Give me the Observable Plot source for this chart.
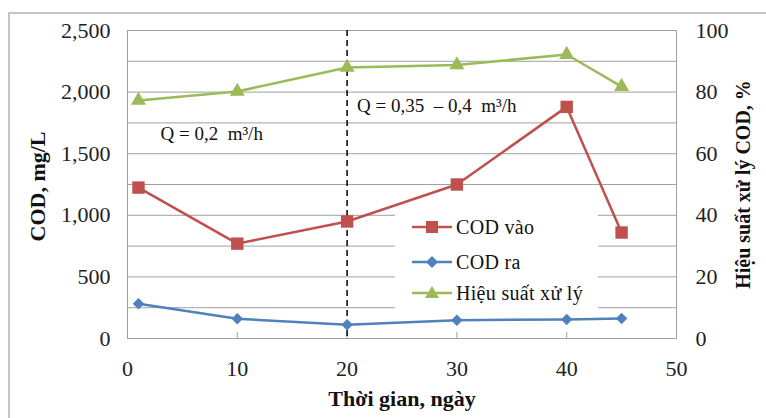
<!DOCTYPE html>
<html><head><meta charset="utf-8">
<script src="https://cdn.jsdelivr.net/npm/d3@7"></script>
<script src="https://cdn.jsdelivr.net/npm/@observablehq/plot@0.6"></script>
<style>
body{margin:0;background:#fff;}
#wrap{position:relative;width:766px;height:418px;overflow:hidden;font-family:"Liberation Serif","Times New Roman",serif;}
#border{position:absolute;left:8px;top:12px;width:800px;height:500px;border:2px solid #c4c4c4;box-sizing:border-box;}
#chart{position:absolute;left:0;top:0;}
#legend{position:absolute;left:395px;top:209px;width:203px;height:103px;background:#fff;}
.item{position:absolute;left:17px;height:30px;display:flex;align-items:center;font-size:20px;color:#111;letter-spacing:0.3px;}
.item svg{margin-right:4px;}
</style></head>
<body><div id="wrap"><div id="border"></div><div id="chart"></div><div id="legend"></div></div>
<script>
const days = [1, 10, 20, 30, 40, 45];
const codIn = [1225, 770, 950, 1250, 1880, 860];
const codOut = [282, 160, 112, 148, 155, 163];
const efficiency = [77.3, 80.2, 88, 88.8, 92.2, 81.8];
const leftTicks = [0, 500, 1000, 1500, 2000, 2500];
const rightTicks = [0, 20, 40, 60, 80, 100];
const xTicks = [0, 10, 20, 30, 40, 50];
const seriesNames = ["COD vào", "COD ra", "Hiệu suất xử lý"];
const colors = ["#C0504D", "#4F81BD", "#9BBB59"];
const annotations = [
  {x: 3.0, y: 1664, label: "Q = 0,2  m³/h"},
  {x: 20.9, y: 1891, label: "Q = 0,35  – 0,4  m³/h"}
];
const phaseBreak = [20];
const k = 2500 / 100; // right-axis scale factor

const rows = (vals) => days.map((d, i) => ({x: d, y: vals[i]}));
const inRows = rows(codIn);
const outRows = rows(codOut);
const effRows = rows(efficiency.map(v => v * k));
const FONT = "'Liberation Serif', 'Times New Roman', serif";

const chart = Plot.plot({
  width: 766, height: 418,
  marginLeft: 127, marginRight: 90, marginTop: 30, marginBottom: 80,
  x: {domain: [0, 50]},
  y: {domain: [0, 2500]},
  style: {fontFamily: FONT, fontSize: "22px", color: "#222", background: "transparent", overflow: "visible"},
  marks: [
    Plot.gridY(d3.range(250, 2500.1, 250), {stroke: "#a0a0a0", strokeOpacity: 1}),
    Plot.frame({stroke: "#a0a0a0"}),
    Plot.axisY(leftTicks, {anchor: "left", tickSize: 0, tickPadding: 17, tickFormat: d3.format(","), label: null}),
    Plot.axisY(rightTicks.map(v => v * k), {anchor: "right", tickSize: 0, tickPadding: 19, tickFormat: d => d / k, label: null}),
    Plot.axisX(xTicks, {anchor: "bottom", tickSize: 0, tickPadding: 22, label: null}),
    Plot.axisX(xTicks.slice(1, -1), {anchor: "bottom", tickSize: -6, tickFormat: () => "", label: null, stroke: "#a0a0a0"}),
    Plot.ruleX(phaseBreak, {stroke: "#000", strokeWidth: 1.5, strokeDasharray: "6,4"}),
    Plot.line(effRows, {x: "x", y: "y", stroke: colors[2], strokeWidth: 2.5}),
    Plot.dot(effRows, {x: "x", y: "y", symbol: "triangle", fill: colors[2], r: 5.6}),
    Plot.line(inRows, {x: "x", y: "y", stroke: colors[0], strokeWidth: 2.5}),
    Plot.dot(inRows, {x: "x", y: "y", symbol: "square", fill: colors[0], r: 7}),
    Plot.line(outRows, {x: "x", y: "y", stroke: colors[1], strokeWidth: 2.5}),
    Plot.dot(outRows, {x: "x", y: "y", symbol: "diamond2", fill: colors[1], stroke: colors[1], r: 4.2}),
    Plot.text(annotations, {x: "x", y: "y", text: "label", textAnchor: "start", fontSize: 19, fill: "#111"}),
    Plot.text(["COD, mg/L"], {frameAnchor: "left", textAnchor: "middle", dx: -90, dy: 2, rotate: -90, fontWeight: "bold", fontSize: 22, fill: "#111", style: "letter-spacing:0.6px"}),
    Plot.text(["Hiệu suất xử lý COD, %"], {frameAnchor: "right", textAnchor: "middle", dx: 67, rotate: -90, fontWeight: "bold", fontSize: 20, fill: "#111"}),
    Plot.text(["Thời gian, ngày"], {frameAnchor: "bottom", dy: 67, fontWeight: "bold", fontSize: 22, fill: "#111"})
  ]
});
document.getElementById("chart").appendChild(chart);

// legend
const symbols = ["square", "diamond", "triangle"];
const legend = document.getElementById("legend");
const rowTops = [3, 38, 69];
seriesNames.forEach((name, i) => {
  const div = document.createElement("div");
  div.className = "item";
  div.style.top = rowTops[i] + "px";
  let marker;
  if (symbols[i] === "square") marker = `<rect x="14" y="5" width="12" height="12" fill="${colors[i]}"/>`;
  else if (symbols[i] === "diamond") marker = `<path d="M20 5 L26 11 L20 17 L14 11 Z" fill="${colors[i]}"/>`;
  else marker = `<path d="M20 4 L27 16 L13 16 Z" fill="${colors[i]}"/>`;
  div.innerHTML = `<svg width="40" height="22"><line x1="0" x2="40" y1="11" y2="11" stroke="${colors[i]}" stroke-width="2.5"/>${marker}</svg><span>${name}</span>`;
  legend.appendChild(div);
});
</script>
</body></html>
